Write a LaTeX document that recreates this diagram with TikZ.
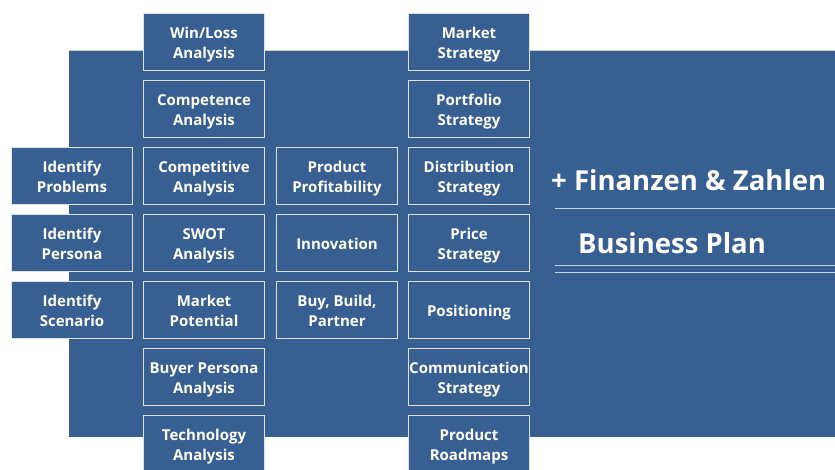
\documentclass[tikz,border=0pt]{standalone}
\usepackage{fontspec}
\setmainfont{Open Sans}
\definecolor{bg}{HTML}{375F91}
\definecolor{edge}{HTML}{DCE2EA}
\definecolor{rule}{HTML}{C9D3DF}
\newcommand\bxt[1]{\raisebox{-2.5pt}[\height][\depth]{\begin{tabular}{@{}c@{}}#1\end{tabular}}}
\tikzset{
  x=1pt,y=-1pt,
  box/.style={draw=edge, line width=1.4pt, fill=bg, minimum width=120.6pt, minimum height=56.6pt,
    inner sep=0pt, align=center, text=white, font=\bfseries\fontsize{15}{20}\selectfont},
  big/.style={text=white, anchor=base west, inner sep=0pt, font=\bfseries\fontsize{27.5}{30}\selectfont},
  hrule/.style={draw=rule, line width=1pt}
}
\renewcommand\arraystretch{1}
\begin{document}
\begin{tikzpicture}
\useasboundingbox (0,0) rectangle (835,469);
\clip (0,0) rectangle (835,469);
\fill[bg] (69,50) rectangle (836,437);
\draw[black!20, line width=0.8pt] (69,50.4) -- (836,50.4);
% column 1
\node[box] (c1r2) at (72,176) {\bxt{Identify\\Problems}};
\node[box] (c1r3) at (72,243) {\bxt{Identify\\Persona}};
\node[box] (c1r4) at (72,310) {\bxt{Identify\\Scenario}};
% column 2
\node[box] (c2r0) at (204,42) {\bxt{Win/Loss\\Analysis}};
\node[box] (c2r1) at (204,109) {\bxt{Competence\\Analysis}};
\node[box] (c2r2) at (204,176) {\bxt{Competitive\\Analysis}};
\node[box] (c2r3) at (204,243) {\bxt{SWOT\\Analysis}};
\node[box] (c2r4) at (204,310) {\bxt{Market\\Potential}};
\node[box] (c2r5) at (204,377) {\bxt{Buyer Persona\\Analysis}};
\node[box] (c2r6) at (204,444) {\bxt{Technology\\Analysis}};
% column 3
\node[box] (c3r2) at (337,176) {\bxt{Product\\Profitability}};
\node[box] (c3r3) at (337,243) {\bxt{Innovation}};
\node[box] (c3r4) at (337,310) {\bxt{Buy, Build,\\Partner}};
% column 4
\node[box] (c4r0) at (469,42) {\bxt{Market\\Strategy}};
\node[box] (c4r1) at (469,109) {\bxt{Portfolio\\Strategy}};
\node[box] (c4r2) at (469,176) {\bxt{Distribution\\Strategy}};
\node[box] (c4r3) at (469,243) {\bxt{Price\\Strategy}};
\node[box] (c4r4) at (469,310) {\bxt{Positioning}};
\node[box] (c4r5) at (469,377) {\bxt{Communication\\Strategy}};
\node[box] (c4r6) at (469,444) {\bxt{Product\\Roadmaps}};
% right side
\node[big] (fin) at (551,190) {+ Finanzen \& Zahlen};
\node[big] (bp) at (578,253) {Business Plan};
\coordinate (l1a) at (555,208.3);
\coordinate (l1b) at (835,208.3);
\coordinate (l2a) at (555,265.7);
\coordinate (l2b) at (835,265.7);
\coordinate (l3a) at (555,272);
\coordinate (l3b) at (835,272);
\draw[hrule] (l1a) -- (l1b);
\draw[hrule] (l2a) -- (l2b);
\draw[hrule] (l3a) -- (l3b);
\end{tikzpicture}
\end{document}
